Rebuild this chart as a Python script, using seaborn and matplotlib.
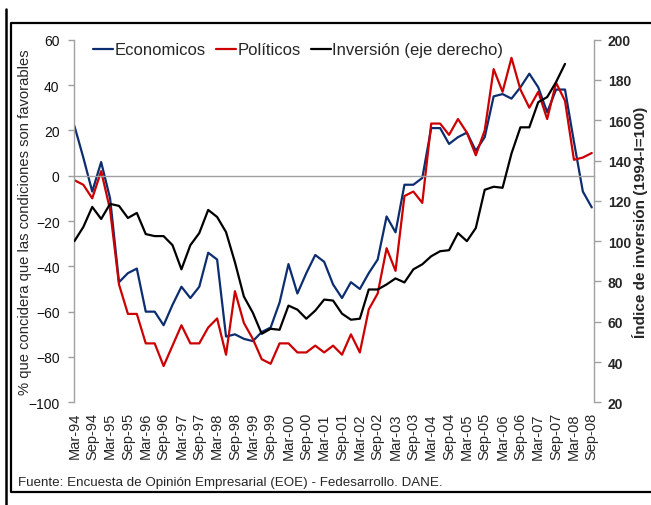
import numpy as np
import pandas as pd
import matplotlib
matplotlib.use("Agg")
import matplotlib.pyplot as plt
from matplotlib.lines import Line2D
import seaborn as sns

# Quarterly periods, Mar-94 .. Sep-08
months = ["Mar", "Jun", "Sep", "Dic"]
years = list(range(1994, 2009))
quarters = [f"{m}-{y % 100:02d}" for y in years for m in months][:59]
tick_labels = quarters[::2]

# % of firms that consider economic conditions favourable
economicos = [22, 8, -7, 6, -10, -47, -43, -41, -60, -60,
              -66, -57, -49, -54, -49, -34, -37, -71, -70, -72,
              -73, -69, -67, -56, -39, -52, -43, -35, -38, -48,
              -54, -47, -50, -43, -37, -18, -25, -4, -4, -1,
              21, 21, 14, 17, 19, 11, 17, 35, 36, 34,
              39, 45, 39, 28, 38, 38, 15, -7, -14]

# % of firms that consider political conditions favourable
politicos = [-2, -4, -10, 2, -15, -48, -61, -61, -74, -74,
             -84, -75, -66, -74, -74, -67, -63, -79, -51, -65,
             -72, -81, -83, -74, -74, -78, -78, -75, -78, -75,
             -79, -70, -78, -59, -52, -32, -42, -9, -7, -12,
             23, 23, 18, 25, 19, 9, 20, 47, 37, 52,
             38, 30, 37, 25, 41, 33, 7, 8, 10]

# Investment index (1994-I = 100), right axis
inversion = [100, 107, 117, 111, 118.5, 117.5, 111.5, 114, 103.5, 102.5,
             102.5, 98, 86, 98, 104, 115.5, 112, 104.5, 89.5, 72.5,
             64.5, 54, 56.5, 56, 68, 66, 61.5, 65.5, 71, 70.5,
             64, 61, 61.5, 76, 76, 78.5, 81.5, 79.5, 86, 88.5,
             92.5, 95, 95.5, 104, 100, 106.5, 125.5, 127, 126.5, 143.5,
             156.5, 156.5, 169, 171.5, 179, 188, np.nan, np.nan, np.nan]

df = pd.DataFrame({
    "periodo": quarters,
    "pos": np.arange(len(quarters)),
    "Economicos": economicos,
    "Políticos": politicos,
    "Inversión": inversion,
})

sns.set_style("white")
plt.rcParams["font.family"] = ["Liberation Sans", "DejaVu Sans"]

W_PX, H_PX = 651, 506
fig = plt.figure(figsize=(W_PX / 100, H_PX / 100), dpi=100)
fig.patch.set_facecolor("white")

left, right, top, bottom = 73.5, 594.0, 40.7, 403.3
ax = fig.add_axes([left / W_PX, 1 - bottom / H_PX,
                   (right - left) / W_PX, (bottom - top) / H_PX])
ax2 = ax.twinx()

BLUE = "#0c2d6f"
RED = "#cc0000"
GRAY = "#a0a0a0"
LW = 1.6

sns.lineplot(data=df, x="pos", y="Economicos", ax=ax, color=BLUE, linewidth=LW)
sns.lineplot(data=df, x="pos", y="Políticos", ax=ax, color=RED, linewidth=LW)
sns.lineplot(data=df.dropna(subset=["Inversión"]), x="pos", y="Inversión",
             ax=ax2, color="black", linewidth=LW)

ax.set_xlim(-0.1, 58.25)
ax.set_ylim(-100, 60)
ax.set_yticks(range(-100, 61, 20))
ax2.set_ylim(20, 200)
ax2.set_yticks(range(20, 201, 20))

# spines
for s in ["top", "right"]:
    ax.spines[s].set_visible(False)
for s in ["top", "left", "bottom"]:
    ax2.spines[s].set_visible(False)
ax.spines["left"].set_color(GRAY)
ax.spines["left"].set_linewidth(1.0)
ax2.spines["right"].set_color(GRAY)
ax2.spines["right"].set_linewidth(1.0)
ax.spines["bottom"].set_position(("data", 0))
ax.spines["bottom"].set_color(GRAY)
ax.spines["bottom"].set_linewidth(1.0)

# x ticks on the zero line, labels at the bottom of the plot
ax.set_xticks(range(0, len(quarters), 2))
ax.tick_params(axis="x", direction="out", length=4, width=1, color=GRAY,
               labelbottom=False)
sec = ax.secondary_xaxis(location=0)
sec.set_xticks(range(0, len(quarters), 2), labels=tick_labels, rotation=90)
sec.tick_params(length=0, pad=7, labelsize=10.5)
for s in sec.spines.values():
    s.set_visible(False)

ax.tick_params(axis="y", direction="out", length=4, width=1, color=GRAY,
               labelsize=10, pad=6, labelcolor="#111111")
ax2.tick_params(axis="y", direction="out", length=5, width=1, color=GRAY,
                labelsize=10, pad=5)
for t in ax2.get_yticklabels():
    t.set_fontweight("bold")

ax.set_xlabel("")
ax.set_ylabel("% que concidera que las condiciones son favorables", fontsize=10.6)
ax.yaxis.label.set_va("center")
ax.yaxis.set_label_coords(-0.093, 0.5)
ax2.set_ylabel("Índice de inversión (1994-I=100)", fontsize=11, fontweight="bold")
ax2.yaxis.label.set_va("center")
ax2.yaxis.set_label_coords(1.089, 0.5)

handles = [Line2D([], [], color=BLUE, lw=LW),
           Line2D([], [], color=RED, lw=LW),
           Line2D([], [], color="black", lw=LW)]
labels = ["Economicos", "Políticos", "Inversión (eje derecho)"]
ax2.legend(handles, labels, ncol=3, loc="center left",
           bbox_to_anchor=(0.0375, 0.9716), frameon=False, fontsize=12,
           handlelength=1.2, handletextpad=0.1, columnspacing=0.6,
           borderpad=0, borderaxespad=0)

# frame around the chart
def fx(x):
    return x / W_PX

def fy(y):
    return 1 - y / H_PX

fig.add_artist(Line2D([fx(6), fx(6)], [fy(10), fy(H_PX + 5)],
                      transform=fig.transFigure, color="black", lw=1.8))
fig.add_artist(Line2D([fx(W_PX + 5), fx(11), fx(11), fx(W_PX + 5)],
                      [fy(24), fy(24), fy(493), fy(493)],
                      transform=fig.transFigure, color="black", lw=1.6))

fig.text(fx(18), fy(483), "Fuente: Encuesta de Opinión Empresarial (EOE) - Fedesarrollo. DANE.",
         fontsize=9.6, ha="left", va="center")

fig.savefig("out.png", dpi=100, facecolor="white")
